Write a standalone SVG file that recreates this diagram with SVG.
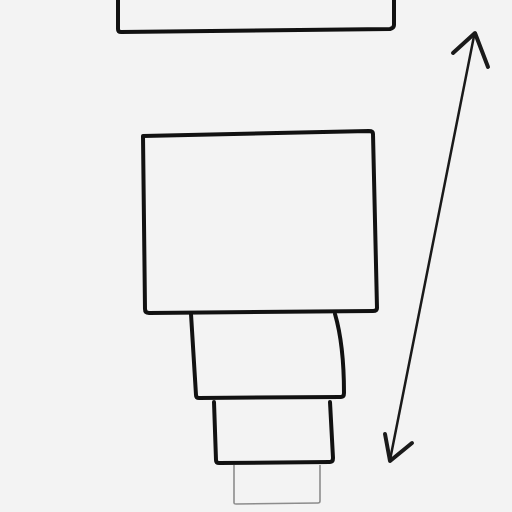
<svg xmlns="http://www.w3.org/2000/svg" width="512" height="512" viewBox="0 0 512 512">
<style>
.box{fill:none;stroke:#111;stroke-width:4;stroke-linejoin:round;stroke-linecap:round}
.ghost{fill:none;stroke:#8c8c8c;stroke-width:1.6;stroke-linejoin:round}
.arrow{fill:none;stroke:#1a1a1a;stroke-linecap:round;stroke-linejoin:round}
</style>
<rect width="512" height="512" fill="#f3f3f3"/>
<g id="box-top"><path class="box" d="M118,0 L118,29 Q118,32 121,32 L390,29 Q394,28 394,25 L394,0"/></g>
<g id="box-main"><path class="box" d="M143,136 L369,131 Q373,131 373,134 L377,308 Q377,311 373,311 L149,313 Q145,313 145,309 Z"/></g>
<g id="box-second"><path class="box" d="M191,314 L196,395 Q196,398 199,398 L341,397 Q344,397 344,393 Q344,345 335,314"/></g>
<g id="box-third"><path class="box" d="M214,402 L216,460 Q216,463 219,463 L330,462 Q333,462 333,458 L330,402"/></g>
<g id="box-ghost"><path class="ghost" d="M234,465 L234,503 Q234,504 236,504 L318,503 Q320,503 320,501 L320,465"/></g>
<g id="connectors">
<path class="arrow" stroke-width="2.5" d="M474,36 Q443,190 390,460"/>
<path class="arrow" stroke-width="4" d="M453,53 L475,33 L488,67"/>
<path class="arrow" stroke-width="4" d="M385,434 L390,461 L412,443"/>
</g>
</svg>
